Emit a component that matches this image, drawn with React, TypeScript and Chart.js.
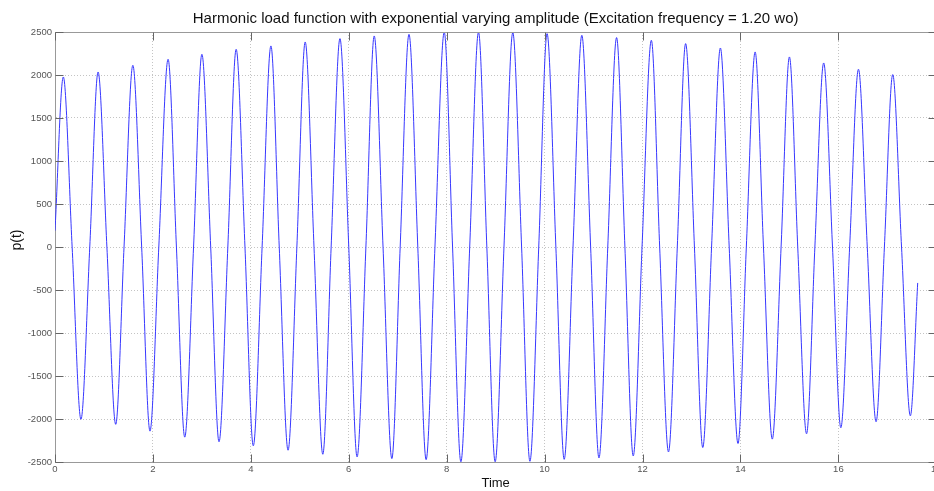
import { useEffect, useRef } from "react";
import { Chart, registerables } from "chart.js";

Chart.register(...registerables);

const TITLE =
  "Harmonic load function with exponential varying amplitude (Excitation frequency = 1.20 wo)";
const X_LABEL = "Time";
const Y_LABEL = "p(t)";

// Local maxima of p(t): time and value
const peakTimes = [
  0.17, 0.88, 1.59, 2.31, 3.0, 3.7, 4.41, 5.11, 5.82, 6.52, 7.23, 7.95, 8.65,
  9.35, 10.05, 10.76, 11.47, 12.18, 12.88, 13.59, 14.3, 15.0, 15.7, 16.41, 17.11,
];
const peakValues = [
  1977, 2035, 2113, 2183, 2241, 2299, 2338, 2384, 2423, 2454, 2473, 2498, 2498,
  2493, 2481, 2462, 2435, 2404, 2365, 2314, 2268, 2210, 2140, 2067, 2005,
];

// Local minima of p(t): time and value
const troughTimes = [
  0.53, 1.24, 1.94, 2.65, 3.35, 4.05, 4.76, 5.47, 6.17, 6.88, 7.58, 8.29, 8.99,
  9.7, 10.4, 11.11, 11.81, 12.53, 13.23, 13.95, 14.65, 15.35, 16.05, 16.77, 17.47,
];
const troughValues = [
  -2003, -2062, -2141, -2211, -2265, -2312, -2363, -2410, -2441, -2461, -2473,
  -2498, -2498, -2492, -2469, -2453, -2430, -2383, -2332, -2285, -2234, -2172,
  -2102, -2032, -1963,
];

// Times where p(t) passes through zero
const crossingTimes = [
  0.35, 0.71, 1.06, 1.41, 1.77, 2.12, 2.48, 2.83, 3.18, 3.53, 3.88, 4.23, 4.58,
  4.94, 5.29, 5.64, 6.0, 6.35, 6.7, 7.05, 7.41, 7.76, 8.12, 8.47, 8.82, 9.17,
  9.53, 9.88, 10.23, 10.58, 10.94, 11.29, 11.64, 11.99, 12.35, 12.71, 13.06,
  13.41, 13.77, 14.12, 14.47, 14.83, 15.17, 15.52, 15.88, 16.23, 16.59, 16.94,
  17.29,
];

// First and last samples of the record
const startTime = 0;
const startValue = 190;
const endTime = 17.62;
const endValue = -418;

// Axis ticks
const xTicks = [0, 2, 4, 6, 8, 10, 12, 14, 16, 18];
const yTicks = [-2500, -2000, -1500, -1000, -500, 0, 500, 1000, 1500, 2000, 2500];

const FONT = '"Liberation Sans", Arial, Helvetica, sans-serif';

function buildSeries() {
  const pts: { x: number; y: number }[] = [];
  pts.push({ x: startTime, y: startValue });
  peakTimes.forEach((t, i) => pts.push({ x: t, y: peakValues[i] }));
  troughTimes.forEach((t, i) => pts.push({ x: t, y: troughValues[i] }));
  crossingTimes.forEach((t) => pts.push({ x: t, y: 0 }));
  pts.push({ x: endTime, y: endValue });
  pts.sort((a, b) => a.x - b.x);
  return pts;
}

// Box frame with inward tick marks, plus the title and axis labels
const framePlugin = {
  id: "matlabFrame",
  afterDraw(chart: any) {
    const { ctx, chartArea: a, scales } = chart;
    const xs = scales.x;
    const ys = scales.y;
    const L = Math.round(a.left) + 0.5;
    const R = Math.round(a.right) + 0.5;
    const T = Math.round(a.top) + 0.5;
    const B = Math.round(a.bottom) + 0.5;
    const tl = 8;

    ctx.save();
    ctx.lineWidth = 1;
    ctx.strokeStyle = "#999";
    ctx.beginPath();
    ctx.moveTo(L, T);
    ctx.lineTo(R, T);
    ctx.lineTo(R, B);
    ctx.stroke();

    ctx.strokeStyle = "#666";
    ctx.beginPath();
    xTicks.forEach((v) => {
      const px = Math.round(xs.getPixelForValue(v)) + 0.5;
      ctx.moveTo(px, B);
      ctx.lineTo(px, B - tl);
      ctx.moveTo(px, T);
      ctx.lineTo(px, T + tl);
    });
    yTicks.forEach((v) => {
      const py = Math.round(ys.getPixelForValue(v)) + 0.5;
      ctx.moveTo(L, py);
      ctx.lineTo(L + tl, py);
      ctx.moveTo(R, py);
      ctx.lineTo(R - tl, py);
    });
    ctx.stroke();

    const cx = (a.left + a.right) / 2;
    ctx.fillStyle = "#111";
    ctx.textAlign = "center";
    ctx.textBaseline = "middle";
    ctx.font = `15px ${FONT}`;
    ctx.fillText(TITLE, cx, 18.5);

    ctx.font = `13px ${FONT}`;
    ctx.fillText(X_LABEL, cx, 483);

    ctx.translate(17, 240);
    ctx.rotate(-Math.PI / 2);
    ctx.font = `14px ${FONT}`;
    ctx.fillText(Y_LABEL, 0, 0);
    ctx.restore();
  },
};

export default function App() {
  const ref = useRef<HTMLCanvasElement | null>(null);

  useEffect(() => {
    const canvas = ref.current;
    if (!canvas) return;
    const tickFont = { family: FONT, size: 9.5 };
    const chart = new Chart(canvas, {
      type: "line",
      data: {
        datasets: [
          {
            data: buildSeries(),
            borderColor: "rgb(55,55,255)",
            borderWidth: 1,
            pointRadius: 0,
            cubicInterpolationMode: "monotone",
            fill: false,
          },
        ],
      },
      options: {
        animation: false,
        responsive: false,
        devicePixelRatio: 1,
        layout: { padding: { top: 32, right: 13.7, bottom: 0, left: 0 } },
        plugins: {
          legend: { display: false },
          tooltip: { enabled: false },
          title: { display: false },
        },
        scales: {
          x: {
            type: "linear",
            min: 0,
            max: 18,
            afterFit: (s: any) => {
              s.height = 29;
            },
            afterBuildTicks: (s: any) => {
              s.ticks = xTicks.map((v) => ({ value: v }));
            },
            grid: { color: "#c4c4c4", drawTicks: false },
            border: { display: true, color: "#999", width: 1, dash: [1, 2] },
            ticks: {
              font: tickFont,
              color: "#555",
              padding: 2,
              maxRotation: 0,
              autoSkip: false,
              callback: (v: any) => String(v),
            },
          },
          y: {
            type: "linear",
            min: -2500,
            max: 2500,
            afterFit: (s: any) => {
              s.width = 55;
            },
            afterBuildTicks: (s: any) => {
              s.ticks = yTicks.map((v) => ({ value: v }));
            },
            grid: { color: "#c4c4c4", drawTicks: false },
            border: { display: true, color: "#999", width: 1, dash: [1, 2] },
            ticks: {
              font: tickFont,
              color: "#555",
              padding: 3,
              autoSkip: false,
              callback: (v: any) => String(v),
            },
          },
        },
      },
      plugins: [framePlugin],
    } as any);
    return () => chart.destroy();
  }, []);

  return (
    <div
      style={{
        position: "fixed",
        left: 0,
        top: 0,
        width: 934,
        height: 491,
        overflow: "hidden",
        background: "#fff",
      }}
    >
      <canvas
        ref={ref}
        width={950}
        height={491}
        style={{ display: "block", width: 950, height: 491 }}
      />
    </div>
  );
}
